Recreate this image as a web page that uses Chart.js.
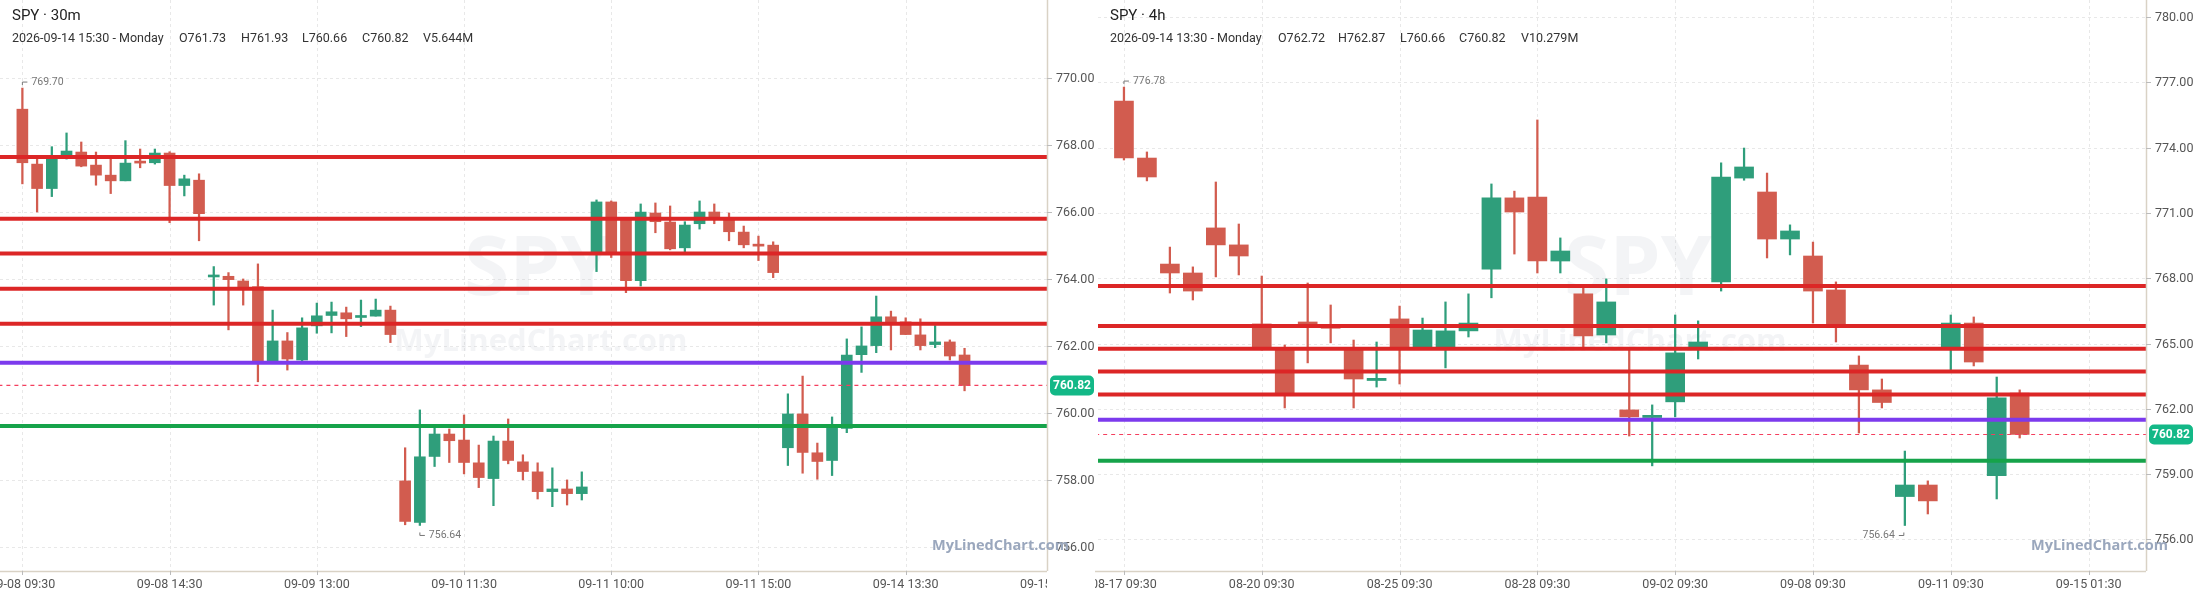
<!DOCTYPE html>
<html><head><meta charset="utf-8">
<script src="https://cdn.jsdelivr.net/npm/chart.js@4.4.1/dist/chart.umd.min.js"></script>
<style>
html,body{margin:0;padding:0;background:#fff;width:2196px;height:597px;overflow:hidden;font-family:Roboto,"Noto Sans",sans-serif}
.pane{position:absolute;top:0;height:597px}
.hdr{position:absolute;color:#222;white-space:nowrap}
.t1{font-size:15px}
.t2{font-size:12.5px;color:#333}
.t2 span{position:absolute;top:0}
</style></head><body>
<div class="pane" style="left:0;width:1095px"><canvas id="c1"></canvas></div>
<div class="pane" style="left:1095px;width:1101px"><canvas id="c2"></canvas></div>
<div class="hdr t1" style="left:12px;top:6px">SPY · 30m</div>
<div class="hdr t2" style="left:12px;top:30px"><span style="left:0">2026-09-14 15:30 - Monday</span><span style="left:167px">O761.73</span><span style="left:229px">H761.93</span><span style="left:290px">L760.66</span><span style="left:350px">C760.82</span><span style="left:411px">V5.644M</span></div>
<div class="hdr t1" style="left:1110px;top:6px">SPY · 4h</div>
<div class="hdr t2" style="left:1110px;top:30px"><span style="left:0">2026-09-14 13:30 - Monday</span><span style="left:168px">O762.72</span><span style="left:228px">H762.87</span><span style="left:290px">L760.66</span><span style="left:349px">C760.82</span><span style="left:411px">V10.279M</span></div>
<script>
// ---- 30m panel data ----
const leftOpen  = [769.07,767.43,766.70,767.70,767.79,767.40,767.10,766.93,767.50,767.47,767.76,766.79,766.95,
 764.06,764.08,763.94,763.77,761.55,762.15,761.58,762.60,762.91,762.99,762.85,762.89,763.07,
 757.97,756.73,758.70,759.37,759.19,758.51,758.04,759.16,758.54,758.24,757.65,757.73,757.59,
 764.81,766.30,765.82,763.95,765.97,765.70,764.93,765.65,766.00,765.80,765.40,765.02,765.01,
 758.96,759.97,758.81,758.58,759.54,761.74,762.01,762.87,762.72,762.33,762.04,762.12,761.73];
const leftHigh  = [769.70,767.58,767.95,768.36,768.09,767.79,767.58,768.13,767.88,767.88,767.80,767.10,767.14,
 764.37,764.19,764.00,764.45,763.07,762.40,762.84,763.28,763.31,763.16,763.37,763.40,763.19,
 758.96,760.09,759.58,759.52,759.94,759.04,759.31,759.82,758.75,758.51,758.36,758.00,758.24,
 766.36,766.33,765.82,766.24,766.27,766.18,765.71,766.33,766.24,765.97,765.58,765.28,765.11,
 760.57,761.10,759.10,759.88,762.21,762.57,763.49,763.04,762.84,762.81,762.61,762.18,761.93];
const leftLow   = [766.84,766.00,766.46,767.58,767.35,766.80,766.55,766.93,767.32,767.43,765.68,766.48,765.14,
 763.22,762.48,763.22,760.93,761.50,761.28,761.50,762.38,762.39,762.28,762.58,762.89,762.10,
 756.66,756.64,758.40,758.52,758.18,757.77,757.23,758.48,758.00,757.43,757.20,757.25,757.40,
 764.22,764.64,763.59,763.79,765.38,764.87,764.81,765.49,765.65,765.14,764.93,764.55,764.04,
 758.43,758.20,758.02,758.13,759.41,761.21,761.80,761.88,762.34,761.88,761.95,761.58,760.66];
const leftClose = [767.47,766.70,767.59,767.82,767.37,767.10,766.93,767.46,767.46,767.76,766.79,766.99,765.95,
 764.10,763.98,763.77,761.55,762.15,761.61,762.54,762.90,763.02,762.81,762.88,763.07,762.34,
 756.76,758.69,759.37,759.17,758.52,758.07,759.16,758.58,758.25,757.65,757.73,757.59,757.79,
 766.30,764.81,763.95,766.00,765.71,764.90,765.61,766.00,765.80,765.41,765.02,764.98,764.19,
 759.97,758.82,758.55,759.59,761.73,762.00,762.87,762.72,762.34,762.01,762.12,761.70,760.82];
const leftTickIdx = [0,10,20,30,40,50,60,70];
const leftTickLabels = ["09-08 09:30","09-08 14:30","09-09 13:00","09-10 11:30","09-11 10:00","09-11 15:00","09-14 13:30","09-15 11:00"];
const leftYTicks = [756,758,760,762,764,766,768,770];

// ---- 4h panel data ----
const rightOpen  = [776.14,773.52,768.65,768.24,770.31,769.53,765.90,764.80,765.99,765.80,764.70,763.30,766.13,764.80,764.80,765.58,
 768.42,771.69,771.73,768.79,767.28,765.39,761.95,761.60,762.32,764.80,767.83,772.60,771.96,769.80,769.02,767.46,764.01,762.87,757.97,758.50,764.80,765.94,758.93,762.72];
const rightHigh  = [776.78,773.80,769.43,768.52,772.42,770.49,768.10,764.93,767.78,766.77,765.16,765.07,766.72,766.17,766.91,767.28,
 772.33,772.00,775.27,769.85,767.60,767.97,764.70,762.18,766.31,766.04,773.30,773.98,772.83,770.45,769.66,767.83,764.43,763.37,760.06,758.69,766.31,766.22,763.46,762.87];
const rightLow   = [773.43,772.47,767.32,767.00,768.06,768.15,764.70,762.04,764.11,765.03,762.04,763.00,763.14,764.80,763.88,765.30,
 767.10,769.11,768.24,768.24,764.80,765.03,760.75,759.38,761.63,764.29,767.41,772.50,768.93,769.07,765.94,765.07,760.89,762.04,756.64,757.17,763.74,763.97,757.86,760.66];
const rightClose = [773.52,772.65,768.24,767.41,769.53,769.02,764.80,762.64,765.76,765.70,763.37,763.40,764.80,765.62,765.58,765.94,
 771.69,771.04,768.79,769.25,765.35,766.91,761.63,761.70,764.57,765.07,772.65,773.11,769.80,770.17,767.41,765.90,762.87,762.29,758.50,757.77,765.94,764.15,762.50,760.82];
const rightTickIdx = [0,6,12,18,24,30,36,42];
const rightTickLabels = ["08-17 09:30","08-20 09:30","08-25 09:30","08-28 09:30","09-02 09:30","09-08 09:30","09-11 09:30","09-15 01:30"];
const rightYTicks = [756,759,762,765,768,771,774,777,780];

// ---- levels (shared) ----
const resistanceLevels = [767.64,765.80,764.76,763.71,762.66];
const pivotLevel = 761.50;
const supportLevel = 759.61;
const lastPrice = 760.82;

const UP='#2f9e7b', DOWN='#d25c4f';

function build(id, O,H,L,C, tickIdx, tickLabels, yTicks, xr, yr, bodyW, axisW, notes, leftPad){
  const idx=O.map((_,i)=>i);
  const col=idx.map(i=>C[i]>=O[i]?UP:DOWN);
  const ds=[];
  ds.push({type:'bar',data:idx.map(i=>({x:i,y:[L[i],H[i]]})),backgroundColor:col,barThickness:1.6,grouped:false,order:3,minBarLength:1});
  ds.push({type:'bar',data:idx.map(i=>({x:i,y:[O[i],C[i]]})),backgroundColor:col,barThickness:bodyW,grouped:false,order:2,minBarLength:2});
  const line=(v,c,w,dash)=>({type:'line',data:[{x:xr[0]-5,y:v},{x:xr[1]+5,y:v}],borderColor:c,borderWidth:w,borderDash:dash||[],pointRadius:0,order:0,clip:true});
  resistanceLevels.forEach(v=>ds.push(line(v,'#dc2626',4)));
  ds.push(line(pivotLevel,'#7c3aed',4));
  ds.push(line(supportLevel,'#16a34a',4));
  ds.push(line(lastPrice,'#f43f5e',1.2,[4,4]));
  const extras={id:'extras'+id,
    beforeDatasetsDraw(ch){const {ctx}=ch,a=ch.chartArea,xs=ch.scales.x,ys=ch.scales.y;
      ctx.save();ctx.strokeStyle='#e8e8e8';ctx.lineWidth=1;ctx.setLineDash([3,3]);
      tickIdx.forEach(t=>{const px=Math.round(xs.getPixelForValue(t))+0.5;if(px>a.right)return;ctx.beginPath();ctx.moveTo(px,a.top);ctx.lineTo(px,a.bottom);ctx.stroke();});
      yTicks.forEach(t=>{const py=Math.round(ys.getPixelForValue(t))+0.5;ctx.beginPath();ctx.moveTo(a.left,py);ctx.lineTo(a.right,py);ctx.stroke();});
      ctx.setLineDash([]);
      ctx.fillStyle='rgba(200,205,215,0.22)';ctx.textAlign='center';ctx.textBaseline='middle';
      ctx.font='bold 82px "Open Sans",sans-serif';ctx.fillText('SPY',id==1?538:1638-1095,272);
      ctx.font='bold 31px "Open Sans",sans-serif';ctx.fillText('MyLinedChart.com',id==1?541:1640-1095,342);
      ctx.restore();},
    afterDraw(ch){const {ctx}=ch,a=ch.chartArea,ys=ch.scales.y,xs=ch.scales.x;
      ctx.save();ctx.strokeStyle='#d9d2c5';ctx.lineWidth=1.5;
      ctx.beginPath();ctx.moveTo(a.right+0.5,0);ctx.lineTo(a.right+0.5,a.bottom);ctx.moveTo(0,a.bottom+0.5);ctx.lineTo(a.right,a.bottom+0.5);ctx.stroke();
      ctx.strokeStyle='#bbb';ctx.lineWidth=1;
      // x labels (clipped to plot width)
      ctx.save();ctx.beginPath();ctx.rect(0,a.bottom,a.right,40);ctx.clip();
      ctx.font='12.5px Roboto,sans-serif';ctx.fillStyle='#555';ctx.textAlign='center';ctx.textBaseline='middle';
      tickIdx.forEach((t,k)=>{const px=xs.getPixelForValue(t);
        ctx.beginPath();ctx.moveTo(Math.round(px)+0.5,a.bottom);ctx.lineTo(Math.round(px)+0.5,a.bottom+4);ctx.stroke();
        ctx.fillText(tickLabels[k],px,a.bottom+14);});
      ctx.restore();
      ctx.font='12.5px Roboto,sans-serif';ctx.fillStyle='#555';ctx.textAlign='left';ctx.textBaseline='middle';
      yTicks.forEach(t=>{const py=Math.round(ys.getPixelForValue(t))+0.5;ctx.beginPath();ctx.moveTo(a.right,py);ctx.lineTo(a.right+5,py);ctx.stroke();
        ctx.fillText(t.toFixed(2),a.right+9,py);});
      ctx.font='bold 14.5px "Open Sans",sans-serif';ctx.fillStyle='#9aa7bd';ctx.textAlign='right';
      ctx.fillText('MyLinedChart.com',a.right+22,546);
      const py=ys.getPixelForValue(lastPrice);const x0=a.right+3,w=44,h=20;
      ctx.fillStyle='#13b887';ctx.beginPath();ctx.roundRect(x0,py-h/2,w,h,5);ctx.fill();
      ctx.fillStyle='#fff';ctx.font='bold 12px Roboto,sans-serif';ctx.textAlign='center';ctx.fillText(lastPrice.toFixed(2),x0+w/2,py+0.5);
      ctx.font='10.5px Roboto,sans-serif';ctx.fillStyle='#777';ctx.strokeStyle='#777';ctx.lineWidth=1;
      notes.forEach(nt=>{const px=xs.getPixelForValue(nt.i),vy=ys.getPixelForValue(nt.v);
        const yy=nt.hi?vy-6:vy+10;
        ctx.beginPath();
        if(nt.side>0){ctx.moveTo(px,yy+(nt.hi?3:-3));ctx.lineTo(px,yy);ctx.lineTo(px+5,yy);}
        else{ctx.moveTo(px-1,yy+(nt.hi?3:-3));ctx.lineTo(px-1,yy);ctx.lineTo(px-6,yy);}
        ctx.stroke();
        ctx.textAlign=nt.side>0?'left':'right';ctx.fillText(nt.v.toFixed(2),px+(nt.side>0?9:-10),yy);
      });
      ctx.restore();}
  };
  return new Chart(document.getElementById('c'+id),{
    type:'bar',data:{datasets:ds},plugins:[extras],
    options:{responsive:false,animation:false,devicePixelRatio:1,
      layout:{padding:{left:leftPad,top:0,right:0,bottom:0}},
      plugins:{legend:{display:false},tooltip:{enabled:false}},
      scales:{
        x:{type:'linear',min:xr[0],max:xr[1],offset:false,
          afterFit:s=>{s.height=26;s.paddingLeft=0;s.paddingRight=0;},
          ticks:{display:false},grid:{display:false},border:{display:false}},
        y:{type:'linear',position:'right',min:yr[0],max:yr[1],
          afterFit:s=>{s.width=axisW;s.paddingTop=0;s.paddingBottom=0;},
          ticks:{display:false},grid:{display:false},border:{display:false}}
      }}});
}
function sizeCanvas(id,w){const c=document.getElementById('c'+id);c.width=w;c.height=597;c.style.width=w+'px';c.style.height='597px';}
sizeCanvas(1,1095);sizeCanvas(2,1101);
build(1,leftOpen,leftHigh,leftLow,leftClose,leftTickIdx,leftTickLabels,leftYTicks,[-1.52,69.6],[755.28,772.33],11,48,
  [{i:0,v:769.70,hi:true,side:1},{i:27,v:756.64,hi:false,side:1}],0);
build(2,rightOpen,rightHigh,rightLow,rightClose,rightTickIdx,rightTickLabels,rightYTicks,[-1.13,44.5],[754.55,780.78],19,50,
  [{i:0,v:776.78,hi:true,side:1},{i:34,v:756.64,hi:false,side:-1}],3);
</script></body></html>
